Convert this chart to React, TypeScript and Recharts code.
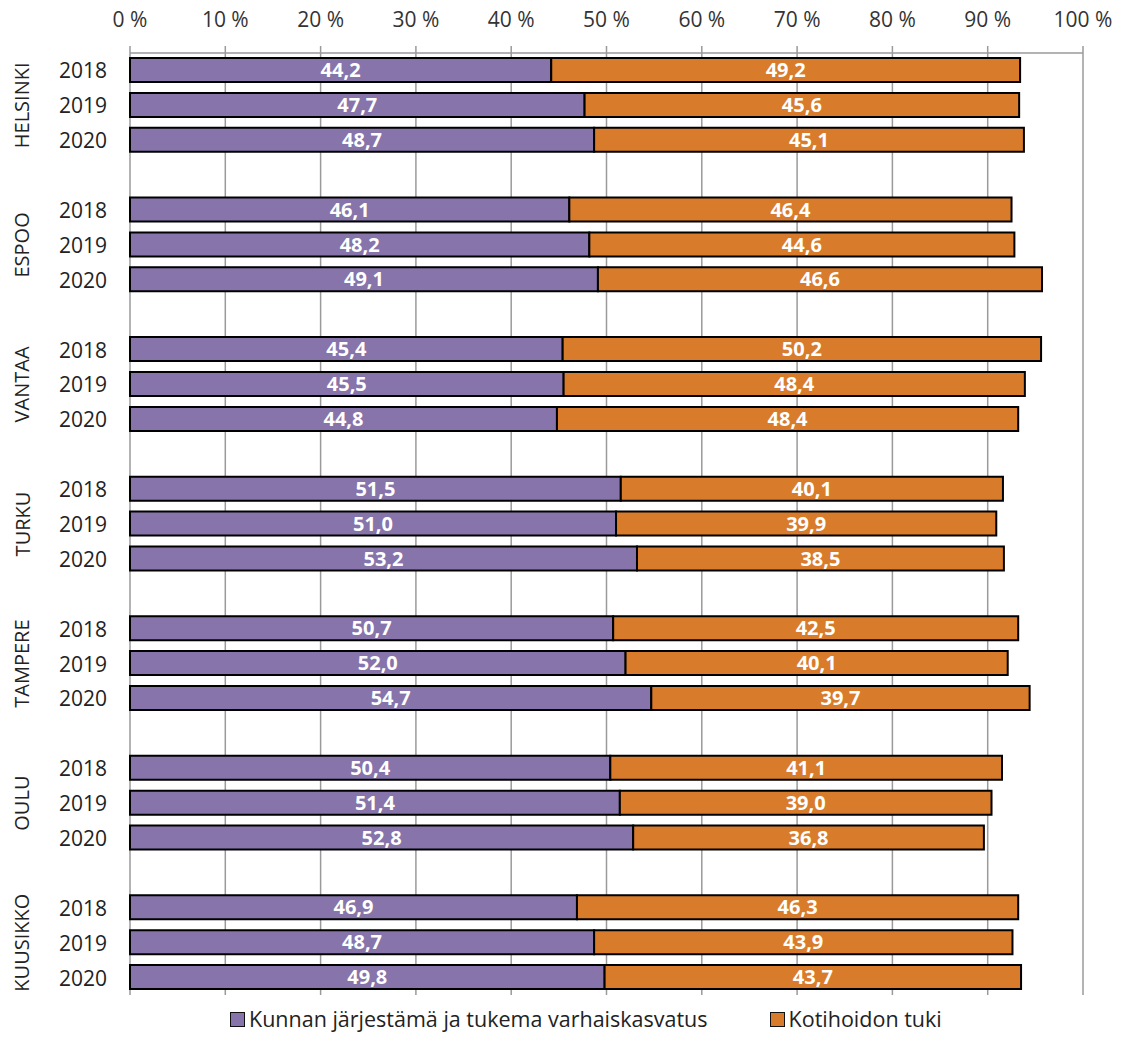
import React from 'react';
import { BarChart, Bar, XAxis, YAxis, CartesianGrid, LabelList, Legend } from 'recharts';

const cities = ['HELSINKI', 'ESPOO', 'VANTAA', 'TURKU', 'TAMPERE', 'OULU', 'KUUSIKKO'];
const years = ['2018', '2019', '2020'];
// Kunnan järjestämä ja tukema varhaiskasvatus, per city, per year
const kunnan = [
  [44.2, 47.7, 48.7],
  [46.1, 48.2, 49.1],
  [45.4, 45.5, 44.8],
  [51.5, 51.0, 53.2],
  [50.7, 52.0, 54.7],
  [50.4, 51.4, 52.8],
  [46.9, 48.7, 49.8],
];
// Kotihoidon tuki
const kotihoito = [
  [49.2, 45.6, 45.1],
  [46.4, 44.6, 46.6],
  [50.2, 48.4, 48.4],
  [40.1, 39.9, 38.5],
  [42.5, 40.1, 39.7],
  [41.1, 39.0, 36.8],
  [46.3, 43.9, 43.7],
];
const xTicks = [0, 10, 20, 30, 40, 50, 60, 70, 80, 90, 100];
const seriesNames = ['Kunnan järjestämä ja tukema varhaiskasvatus', 'Kotihoidon tuki'];

const PURPLE = '#8674AA';
const ORANGE = '#D87B2B';
const FONT = '"Open Sans", sans-serif';

type Row = { id: string; city?: string; year?: string; a?: number; b?: number };
const rows: Row[] = [];
cities.forEach((city, ci) => {
  if (ci > 0) rows.push({ id: `gap-${ci}` });
  years.forEach((year, yi) => {
    rows.push({ id: `${city}|${year}`, city, year, a: kunnan[ci][yi], b: kotihoito[ci][yi] });
  });
});

const fmt = (v: any) => (v === undefined || v === null ? '' : Number(v).toFixed(1).replace('.', ','));

const YTick = (props: any) => {
  const { x, y, payload } = props;
  const id: string = payload?.value ?? '';
  if (id.startsWith('gap')) return null;
  const [city, year] = id.split('|');
  return (
    <g>
      <text x={x} y={y} textAnchor="end" dominantBaseline="central" fontSize={21} fill="#222" fontFamily={FONT}>
        {year}
      </text>
      {year === '2019' && (
        <text
          x={x - 85}
          y={y}
          textAnchor="middle"
          dominantBaseline="central"
          fontSize={20}
          fill="#222"
          fontFamily={FONT}
          transform={`rotate(-90, ${x - 85}, ${y})`}
        >
          {city}
        </text>
      )}
    </g>
  );
};

const LegendContent = () => (
  <div style={{ height: 36, paddingTop: 12, boxSizing: 'border-box', display: 'flex', paddingLeft: 230, fontFamily: FONT, fontSize: 21.5, color: '#222', lineHeight: '22px' }}>
    {seriesNames.map((n, i) => (
      <div key={n} style={{ display: 'flex', alignItems: 'center', marginRight: 62 }}>
        <span style={{ display: 'inline-block', width: 13, height: 13, background: i === 0 ? PURPLE : ORANGE, border: '1.5px solid #111', marginRight: 4 }} />
        <span>{n}</span>
      </div>
    ))}
  </div>
);

export default function App() {
  return (
    <div style={{ position: 'absolute', left: 0, top: 0, width: 1122, height: 1037, background: '#fff', fontFamily: FONT }}>
      <BarChart
        layout="vertical"
        width={1122}
        height={1037}
        data={rows}
        margin={{ top: 13, right: 39, bottom: 6, left: 10 }}
        barSize={24}
      >
        <CartesianGrid horizontal={false} stroke="#9a9a9a" strokeWidth={1.5} />
        <XAxis
          type="number"
          orientation="top"
          domain={[0, 100]}
          ticks={xTicks}
          interval={0}
          height={40}
          tickFormatter={(v: number) => `${v} %`}
          axisLine={{ stroke: '#9a9a9a', strokeWidth: 1.5 }}
          tickLine={{ stroke: '#9a9a9a', strokeWidth: 1.5 }}
          tickSize={7}
          tickMargin={19}
          tick={{ fill: '#333', fontSize: 21, fontFamily: FONT }}
        />
        <YAxis
          type="category"
          dataKey="id"
          width={120}
          interval={0}
          axisLine={false}
          tickLine={false}
          tickSize={0}
          tickMargin={23}
          tick={<YTick />}
        />
        <Legend verticalAlign="bottom" content={<LegendContent />} wrapperStyle={{ left: 0, width: 1122 }} />
        <Bar dataKey="a" name={seriesNames[0]} stackId="s" fill={PURPLE} stroke="#000" strokeWidth={2} isAnimationActive={false}>
          <LabelList dataKey="a" position="center" formatter={fmt} fill="#fff" fontSize={20} fontWeight="bold" fontFamily={FONT} />
        </Bar>
        <Bar dataKey="b" name={seriesNames[1]} stackId="s" fill={ORANGE} stroke="#000" strokeWidth={2} isAnimationActive={false}>
          <LabelList dataKey="b" position="center" formatter={fmt} fill="#fff" fontSize={20} fontWeight="bold" fontFamily={FONT} />
        </Bar>
      </BarChart>
    </div>
  );
}
